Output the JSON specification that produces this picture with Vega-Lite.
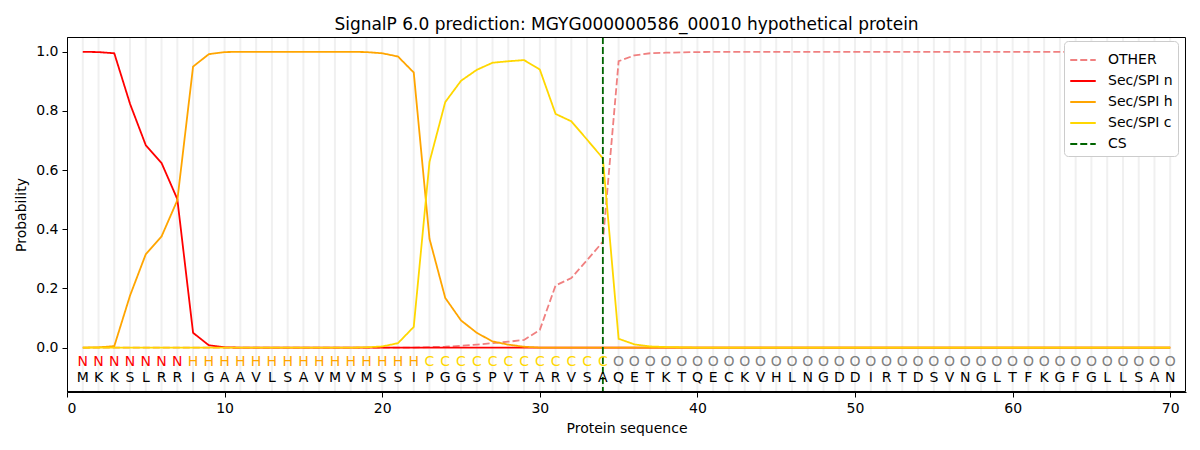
{
  "$schema": "https://vega.github.io/schema/vega-lite/v6.json",
  "width": 1119,
  "height": 355,
  "autosize": "none",
  "padding": {"left": 67, "top": 37, "right": 14, "bottom": 58},
  "background": "white",
  "config": {
    "font": "DejaVu Sans",
    "view": {"stroke": null},
    "axis": {
      "grid": false,
      "domainColor": "black",
      "tickColor": "black",
      "tickSize": 5,
      "labelFontSize": 14,
      "labelColor": "black",
      "titleFontSize": 14,
      "titleFontWeight": "normal",
      "titleColor": "black",
      "labelFont": "DejaVu Sans",
      "titleFont": "DejaVu Sans"
    }
  },
  "title": {
    "text": "SignalP 6.0 prediction: MGYG000000586_00010 hypothetical protein",
    "fontSize": 17,
    "fontWeight": "normal",
    "font": "DejaVu Sans",
    "color": "black",
    "offset": 2
  },
  "datasets": {
    "seq": [
      {"pos": 1, "aa": "M", "lab": "N", "OTHER": 0, "Sec/SPI n": 1.0, "Sec/SPI h": 0, "Sec/SPI c": 0},
      {"pos": 2, "aa": "K", "lab": "N", "OTHER": 0, "Sec/SPI n": 0.999, "Sec/SPI h": 0.001, "Sec/SPI c": 0},
      {"pos": 3, "aa": "K", "lab": "N", "OTHER": 0, "Sec/SPI n": 0.995, "Sec/SPI h": 0.005, "Sec/SPI c": 0},
      {"pos": 4, "aa": "S", "lab": "N", "OTHER": 0, "Sec/SPI n": 0.824, "Sec/SPI h": 0.176, "Sec/SPI c": 0},
      {"pos": 5, "aa": "L", "lab": "N", "OTHER": 0, "Sec/SPI n": 0.684, "Sec/SPI h": 0.316, "Sec/SPI c": 0},
      {"pos": 6, "aa": "R", "lab": "N", "OTHER": 0, "Sec/SPI n": 0.624, "Sec/SPI h": 0.376, "Sec/SPI c": 0},
      {"pos": 7, "aa": "R", "lab": "N", "OTHER": 0, "Sec/SPI n": 0.502, "Sec/SPI h": 0.498, "Sec/SPI c": 0},
      {"pos": 8, "aa": "I", "lab": "H", "OTHER": 0, "Sec/SPI n": 0.05, "Sec/SPI h": 0.95, "Sec/SPI c": 0},
      {"pos": 9, "aa": "G", "lab": "H", "OTHER": 0, "Sec/SPI n": 0.008, "Sec/SPI h": 0.992, "Sec/SPI c": 0},
      {"pos": 10, "aa": "A", "lab": "H", "OTHER": 0, "Sec/SPI n": 0.001, "Sec/SPI h": 0.999, "Sec/SPI c": 0},
      {"pos": 11, "aa": "A", "lab": "H", "OTHER": 0, "Sec/SPI n": 0, "Sec/SPI h": 1.0, "Sec/SPI c": 0},
      {"pos": 12, "aa": "V", "lab": "H", "OTHER": 0, "Sec/SPI n": 0, "Sec/SPI h": 1.0, "Sec/SPI c": 0},
      {"pos": 13, "aa": "L", "lab": "H", "OTHER": 0, "Sec/SPI n": 0, "Sec/SPI h": 1.0, "Sec/SPI c": 0},
      {"pos": 14, "aa": "S", "lab": "H", "OTHER": 0, "Sec/SPI n": 0, "Sec/SPI h": 1.0, "Sec/SPI c": 0},
      {"pos": 15, "aa": "A", "lab": "H", "OTHER": 0, "Sec/SPI n": 0, "Sec/SPI h": 1.0, "Sec/SPI c": 0},
      {"pos": 16, "aa": "V", "lab": "H", "OTHER": 0, "Sec/SPI n": 0, "Sec/SPI h": 1.0, "Sec/SPI c": 0},
      {"pos": 17, "aa": "M", "lab": "H", "OTHER": 0, "Sec/SPI n": 0, "Sec/SPI h": 1.0, "Sec/SPI c": 0},
      {"pos": 18, "aa": "V", "lab": "H", "OTHER": 0, "Sec/SPI n": 0, "Sec/SPI h": 1.0, "Sec/SPI c": 0},
      {"pos": 19, "aa": "M", "lab": "H", "OTHER": 0, "Sec/SPI n": 0, "Sec/SPI h": 0.999, "Sec/SPI c": 0.001},
      {"pos": 20, "aa": "S", "lab": "H", "OTHER": 0, "Sec/SPI n": 0, "Sec/SPI h": 0.995, "Sec/SPI c": 0.004},
      {"pos": 21, "aa": "S", "lab": "H", "OTHER": 0, "Sec/SPI n": 0, "Sec/SPI h": 0.984, "Sec/SPI c": 0.015},
      {"pos": 22, "aa": "I", "lab": "H", "OTHER": 0, "Sec/SPI n": 0, "Sec/SPI h": 0.93, "Sec/SPI c": 0.07},
      {"pos": 23, "aa": "P", "lab": "C", "OTHER": 0.002, "Sec/SPI n": 0, "Sec/SPI h": 0.368, "Sec/SPI c": 0.628},
      {"pos": 24, "aa": "G", "lab": "C", "OTHER": 0.003, "Sec/SPI n": 0, "Sec/SPI h": 0.168, "Sec/SPI c": 0.83},
      {"pos": 25, "aa": "G", "lab": "C", "OTHER": 0.006, "Sec/SPI n": 0, "Sec/SPI h": 0.092, "Sec/SPI c": 0.902},
      {"pos": 26, "aa": "S", "lab": "C", "OTHER": 0.01, "Sec/SPI n": 0, "Sec/SPI h": 0.05, "Sec/SPI c": 0.939},
      {"pos": 27, "aa": "P", "lab": "C", "OTHER": 0.015, "Sec/SPI n": 0, "Sec/SPI h": 0.021, "Sec/SPI c": 0.963},
      {"pos": 28, "aa": "V", "lab": "C", "OTHER": 0.02, "Sec/SPI n": 0, "Sec/SPI h": 0.01, "Sec/SPI c": 0.968},
      {"pos": 29, "aa": "T", "lab": "C", "OTHER": 0.026, "Sec/SPI n": 0, "Sec/SPI h": 0.003, "Sec/SPI c": 0.972},
      {"pos": 30, "aa": "A", "lab": "C", "OTHER": 0.06, "Sec/SPI n": 0, "Sec/SPI h": 0, "Sec/SPI c": 0.94},
      {"pos": 31, "aa": "R", "lab": "C", "OTHER": 0.21, "Sec/SPI n": 0, "Sec/SPI h": 0, "Sec/SPI c": 0.79},
      {"pos": 32, "aa": "V", "lab": "C", "OTHER": 0.235, "Sec/SPI n": 0, "Sec/SPI h": 0, "Sec/SPI c": 0.765},
      {"pos": 33, "aa": "S", "lab": "C", "OTHER": 0.296, "Sec/SPI n": 0, "Sec/SPI h": 0, "Sec/SPI c": 0.703},
      {"pos": 34, "aa": "A", "lab": "C", "OTHER": 0.358, "Sec/SPI n": 0, "Sec/SPI h": 0, "Sec/SPI c": 0.64},
      {"pos": 35, "aa": "Q", "lab": "O", "OTHER": 0.968, "Sec/SPI n": 0, "Sec/SPI h": 0, "Sec/SPI c": 0.03},
      {"pos": 36, "aa": "E", "lab": "O", "OTHER": 0.988, "Sec/SPI n": 0, "Sec/SPI h": 0, "Sec/SPI c": 0.011},
      {"pos": 37, "aa": "T", "lab": "O", "OTHER": 0.995, "Sec/SPI n": 0, "Sec/SPI h": 0, "Sec/SPI c": 0.004},
      {"pos": 38, "aa": "K", "lab": "O", "OTHER": 0.997, "Sec/SPI n": 0, "Sec/SPI h": 0, "Sec/SPI c": 0.002},
      {"pos": 39, "aa": "T", "lab": "O", "OTHER": 0.998, "Sec/SPI n": 0, "Sec/SPI h": 0, "Sec/SPI c": 0.001},
      {"pos": 40, "aa": "Q", "lab": "O", "OTHER": 0.999, "Sec/SPI n": 0, "Sec/SPI h": 0, "Sec/SPI c": 0},
      {"pos": 41, "aa": "E", "lab": "O", "OTHER": 1.0, "Sec/SPI n": 0, "Sec/SPI h": 0, "Sec/SPI c": 0},
      {"pos": 42, "aa": "C", "lab": "O", "OTHER": 1.0, "Sec/SPI n": 0, "Sec/SPI h": 0, "Sec/SPI c": 0},
      {"pos": 43, "aa": "K", "lab": "O", "OTHER": 1.0, "Sec/SPI n": 0, "Sec/SPI h": 0, "Sec/SPI c": 0},
      {"pos": 44, "aa": "V", "lab": "O", "OTHER": 1.0, "Sec/SPI n": 0, "Sec/SPI h": 0, "Sec/SPI c": 0},
      {"pos": 45, "aa": "H", "lab": "O", "OTHER": 1.0, "Sec/SPI n": 0, "Sec/SPI h": 0, "Sec/SPI c": 0},
      {"pos": 46, "aa": "L", "lab": "O", "OTHER": 1.0, "Sec/SPI n": 0, "Sec/SPI h": 0, "Sec/SPI c": 0},
      {"pos": 47, "aa": "N", "lab": "O", "OTHER": 1.0, "Sec/SPI n": 0, "Sec/SPI h": 0, "Sec/SPI c": 0},
      {"pos": 48, "aa": "G", "lab": "O", "OTHER": 1.0, "Sec/SPI n": 0, "Sec/SPI h": 0, "Sec/SPI c": 0},
      {"pos": 49, "aa": "D", "lab": "O", "OTHER": 1.0, "Sec/SPI n": 0, "Sec/SPI h": 0, "Sec/SPI c": 0},
      {"pos": 50, "aa": "D", "lab": "O", "OTHER": 1.0, "Sec/SPI n": 0, "Sec/SPI h": 0, "Sec/SPI c": 0},
      {"pos": 51, "aa": "I", "lab": "O", "OTHER": 1.0, "Sec/SPI n": 0, "Sec/SPI h": 0, "Sec/SPI c": 0},
      {"pos": 52, "aa": "R", "lab": "O", "OTHER": 1.0, "Sec/SPI n": 0, "Sec/SPI h": 0, "Sec/SPI c": 0},
      {"pos": 53, "aa": "T", "lab": "O", "OTHER": 1.0, "Sec/SPI n": 0, "Sec/SPI h": 0, "Sec/SPI c": 0},
      {"pos": 54, "aa": "D", "lab": "O", "OTHER": 1.0, "Sec/SPI n": 0, "Sec/SPI h": 0, "Sec/SPI c": 0},
      {"pos": 55, "aa": "S", "lab": "O", "OTHER": 1.0, "Sec/SPI n": 0, "Sec/SPI h": 0, "Sec/SPI c": 0},
      {"pos": 56, "aa": "V", "lab": "O", "OTHER": 1.0, "Sec/SPI n": 0, "Sec/SPI h": 0, "Sec/SPI c": 0},
      {"pos": 57, "aa": "N", "lab": "O", "OTHER": 1.0, "Sec/SPI n": 0, "Sec/SPI h": 0, "Sec/SPI c": 0},
      {"pos": 58, "aa": "G", "lab": "O", "OTHER": 1.0, "Sec/SPI n": 0, "Sec/SPI h": 0, "Sec/SPI c": 0},
      {"pos": 59, "aa": "L", "lab": "O", "OTHER": 1.0, "Sec/SPI n": 0, "Sec/SPI h": 0, "Sec/SPI c": 0},
      {"pos": 60, "aa": "T", "lab": "O", "OTHER": 1.0, "Sec/SPI n": 0, "Sec/SPI h": 0, "Sec/SPI c": 0},
      {"pos": 61, "aa": "F", "lab": "O", "OTHER": 1.0, "Sec/SPI n": 0, "Sec/SPI h": 0, "Sec/SPI c": 0},
      {"pos": 62, "aa": "K", "lab": "O", "OTHER": 1.0, "Sec/SPI n": 0, "Sec/SPI h": 0, "Sec/SPI c": 0},
      {"pos": 63, "aa": "G", "lab": "O", "OTHER": 1.0, "Sec/SPI n": 0, "Sec/SPI h": 0, "Sec/SPI c": 0},
      {"pos": 64, "aa": "F", "lab": "O", "OTHER": 1.0, "Sec/SPI n": 0, "Sec/SPI h": 0, "Sec/SPI c": 0},
      {"pos": 65, "aa": "G", "lab": "O", "OTHER": 1.0, "Sec/SPI n": 0, "Sec/SPI h": 0, "Sec/SPI c": 0},
      {"pos": 66, "aa": "L", "lab": "O", "OTHER": 1.0, "Sec/SPI n": 0, "Sec/SPI h": 0, "Sec/SPI c": 0},
      {"pos": 67, "aa": "L", "lab": "O", "OTHER": 1.0, "Sec/SPI n": 0, "Sec/SPI h": 0, "Sec/SPI c": 0},
      {"pos": 68, "aa": "S", "lab": "O", "OTHER": 1.0, "Sec/SPI n": 0, "Sec/SPI h": 0, "Sec/SPI c": 0},
      {"pos": 69, "aa": "A", "lab": "O", "OTHER": 1.0, "Sec/SPI n": 0, "Sec/SPI h": 0, "Sec/SPI c": 0},
      {"pos": 70, "aa": "N", "lab": "O", "OTHER": 1.0, "Sec/SPI n": 0, "Sec/SPI h": 0, "Sec/SPI c": 0}
    ],
    "cs": [{"pos": 34, "series": "CS"}],
    "frame": [{"x0": 0.032, "x1": 70.968, "y0": -0.1483, "y1": 1.0483}]
  },
  "data": {"name": "seq"},
  "layer": [
    {
      "mark": {"type": "rule", "color": "#f0f0f0", "strokeWidth": 2},
      "encoding": {
        "x": {"field": "pos", "type": "quantitative", "scale": {"domain": [0, 71], "nice": false, "zero": false}},
        "y": {"datum": -0.1466},
        "y2": {"datum": 1.0466}
      }
    },
    {
      "transform": [
        {"fold": ["OTHER", "Sec/SPI n", "Sec/SPI h", "Sec/SPI c"], "as": ["series", "prob"]}
      ],
      "mark": {"type": "line", "strokeWidth": 1.8},
      "encoding": {
        "x": {
          "field": "pos",
          "type": "quantitative",
          "title": "Protein sequence",
          "axis": {"values": [0, 10, 20, 30, 40, 50, 60, 70], "titlePadding": 6, "labelPadding": 4}
        },
        "y": {
          "field": "prob",
          "type": "quantitative",
          "title": "Probability",
          "scale": {"domain": [-0.15, 1.05], "nice": false, "zero": false},
          "axis": {"values": [0, 0.2, 0.4, 0.6, 0.8, 1.0], "format": ".1f", "titlePadding": 7, "labelPadding": 4}
        },
        "color": {
          "field": "series",
          "type": "nominal",
          "title": null,
          "scale": {
            "domain": ["OTHER", "Sec/SPI n", "Sec/SPI h", "Sec/SPI c", "CS"],
            "range": ["#f08080", "#ff0000", "#ffa500", "#ffd700", "#006400"]
          },
          "legend": {
            "orient": "none",
            "legendX": 997,
            "legendY": 4,
            "symbolType": "stroke",
            "symbolSize": 650,
            "symbolStrokeWidth": 2,
            "labelFontSize": 14,
            "labelFont": "DejaVu Sans",
            "labelColor": "black",
            "labelOffset": 11,
            "rowPadding": -3,
            "padding": 5,
            "strokeColor": "#cccccc",
            "fillColor": "white",
            "cornerRadius": 4
          }
        },
        "strokeDash": {
          "field": "series",
          "type": "nominal",
          "title": null,
          "scale": {
            "domain": ["OTHER", "Sec/SPI n", "Sec/SPI h", "Sec/SPI c", "CS"],
            "range": [[7, 3], [1, 0], [1, 0], [1, 0], [7, 3]]
          }
        }
      }
    },
    {
      "data": {"name": "cs"},
      "mark": {"type": "rule", "strokeWidth": 1.8},
      "encoding": {
        "x": {"field": "pos", "type": "quantitative"},
        "color": {"field": "series", "type": "nominal", "title": null},
        "strokeDash": {"field": "series", "type": "nominal", "title": null}
      }
    },
    {
      "mark": {"type": "text", "fontSize": 14, "font": "DejaVu Sans", "baseline": "middle", "align": "center"},
      "encoding": {
        "x": {"field": "pos", "type": "quantitative"},
        "y": {"datum": -0.047},
        "text": {"field": "lab"},
        "color": {
          "condition": [
            {"test": "datum.lab === 'N'", "value": "#ff0000"},
            {"test": "datum.lab === 'H'", "value": "#ffa500"},
            {"test": "datum.lab === 'C'", "value": "#ffd700"}
          ],
          "value": "#808080"
        }
      }
    },
    {
      "mark": {"type": "text", "fontSize": 14, "font": "DejaVu Sans", "baseline": "middle", "align": "center", "color": "black"},
      "encoding": {
        "x": {"field": "pos", "type": "quantitative"},
        "y": {"datum": -0.102},
        "text": {"field": "aa"}
      }
    },
    {
      "data": {"name": "frame"},
      "mark": {"type": "rect", "fill": null, "fillOpacity": 0, "stroke": "black", "strokeWidth": 1},
      "encoding": {
        "x": {"field": "x0", "type": "quantitative"},
        "x2": {"field": "x1"},
        "y": {"field": "y0", "type": "quantitative"},
        "y2": {"field": "y1"}
      }
    }
  ]
}
